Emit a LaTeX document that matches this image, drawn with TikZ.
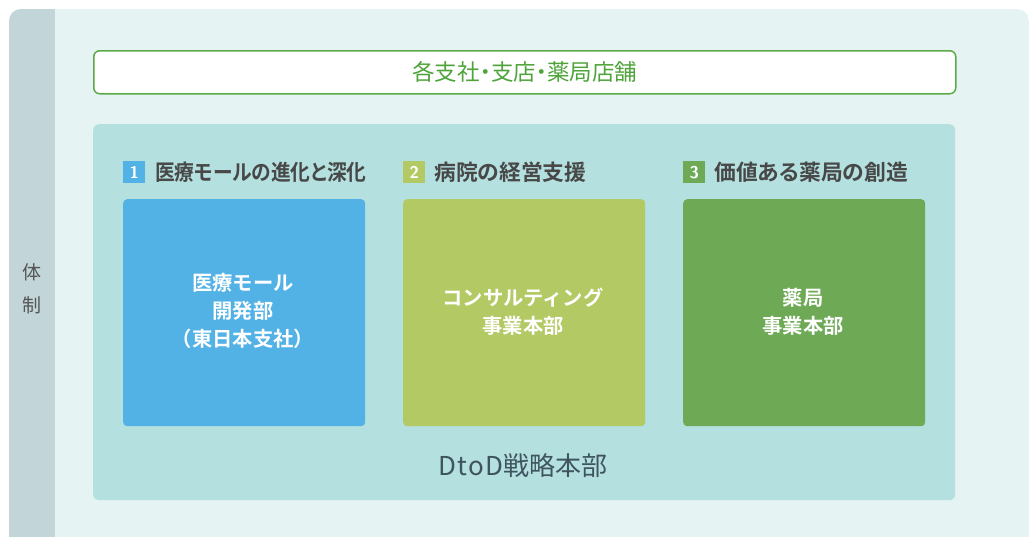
\documentclass[tikz,border=0pt]{standalone}
\usepackage{fontspec}
\usepackage{graphicx}
\newfontfamily\jp{Noto Sans CJK JP}
\newfontfamily\jpb{Noto Sans CJK JP Bold}
\newfontfamily\jpbp[RawFeature=+palt]{Noto Sans CJK JP Bold}
\newfontfamily\jpp[RawFeature=+palt]{Noto Sans CJK JP}
\definecolor{outerbg}{HTML}{E6F3F3}
\definecolor{strip}{HTML}{C2D5D9}
\definecolor{panel}{HTML}{B5E0E0}
\definecolor{topgreen}{HTML}{5AAB46}
\definecolor{toptext}{HTML}{4EA43A}
\definecolor{cblue}{HTML}{52B2E5}
\definecolor{cyg}{HTML}{B3C964}
\definecolor{cgreen}{HTML}{6EA955}
\definecolor{headtext}{HTML}{484848}
\definecolor{dtod}{HTML}{3E5560}
\definecolor{sidetext}{HTML}{555555}
\tikzset{
  card/.style={rounded corners=4pt, inner sep=0pt, anchor=north west},
  cardtext/.style={text=white, font=\jpb\fontsize{20.3}{28}\selectfont, align=center},
  numbox/.style={minimum width=22pt, minimum height=22pt, inner sep=0pt, anchor=north west, text=white, font=\sffamily\bfseries\fontsize{17}{17}\selectfont},
  headlabel/.style={anchor=west, text=headtext, font=\jpbp\fontsize{21.8}{21.8}\selectfont, inner sep=0pt},
}
\begin{document}
\begin{tikzpicture}[x=1pt,y=-1pt]
\useasboundingbox (0,0) rectangle (1032,536);
% outer panel
\begin{scope}
\clip[rounded corners=12pt] (9,9) rectangle (1029,580);
\fill[outerbg] (9,9) rectangle (1029,580);
\fill[strip] (9,9) rectangle (55,580);
\end{scope}
\node[sidetext, font=\jp\fontsize{19}{19}\selectfont] (tai) at (32,272) {体};
\node[sidetext, font=\jp\fontsize{19}{19}\selectfont] (sei) at (32,305) {制};
% top box
\node[draw=topgreen, line width=1.5pt, fill=white, rounded corners=6pt, minimum width=862pt, minimum height=43pt, inner sep=0pt, anchor=north west,
  text=toptext, font=\jpp\fontsize{22.5}{22.5}\selectfont] (top) at (93,50) {各支社・支店・薬局店舗};
% teal panel
\node[fill=panel, rounded corners=6pt, minimum width=862pt, minimum height=376pt, inner sep=0pt, anchor=north west] (pan) at (93,124) {};
% headings
\node[numbox, fill=cblue] (n1) at (123,161) {1};
\node[headlabel] (h1) at (155,172) {\scalebox{0.905}[1]{医療モールの進化と深化}};
\node[numbox, fill=cyg] (n2) at (403,161) {2};
\node[headlabel] (h2) at (434,172) {病院の経営支援};
\node[numbox, fill=cgreen] (n3) at (683,161) {3};
\node[headlabel] (h3) at (714,172) {価値ある薬局の創造};
% cards
\node[card, fill=cblue, minimum width=242pt, minimum height=227pt] (c1) at (123,199) {};
\node[card, fill=cyg, minimum width=242pt, minimum height=227pt] (c2) at (403,199) {};
\node[card, fill=cgreen, minimum width=242pt, minimum height=227pt] (c3) at (683,199) {};
\node[cardtext] (t1) at (243,311) {医療モール\\開発部\\（東日本支社）};
\node[cardtext] (t2) at (523,312) {コンサルティング\\事業本部};
\node[cardtext] (t3) at (803,312) {薬局\\事業本部};
% bottom label
\node[text=dtod, font=\jp\fontsize{26}{26}\selectfont] (dt) at (523,466) {{\addfontfeature{LetterSpace=5}DtoD}戦略本部};
\end{tikzpicture}
\end{document}
